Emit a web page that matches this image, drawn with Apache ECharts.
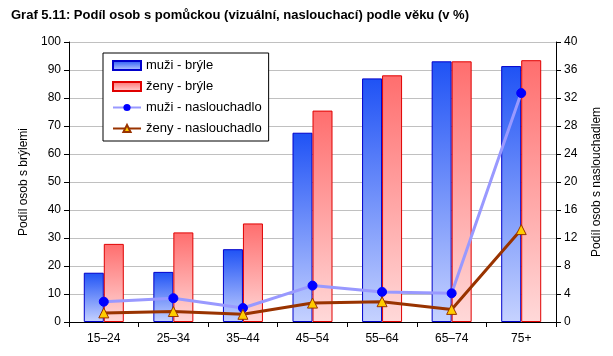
<!DOCTYPE html>
<html><head><meta charset="utf-8">
<script src="https://cdn.jsdelivr.net/npm/echarts@6/dist/echarts.min.js"></script>
<style>html,body{margin:0;padding:0;background:#fff}#c{width:613px;height:356px}</style>
</head><body><div id="c"></div>
<script>
const categories = ['15–24','25–34','35–44','45–54','55–64','65–74','75+'];
const menGlasses = [17.6, 17.9, 26.0, 67.6, 87.0, 93.1, 91.4];
const womenGlasses = [27.9, 32.0, 35.2, 75.5, 88.1, 93.1, 93.5];
const menHearing = [2.9, 3.4, 2.0, 5.2, 4.3, 4.1, 32.7];
const womenHearing = [1.3, 1.5, 1.1, 2.7, 2.9, 1.8, 13.2];
const titleText = 'Graf 5.11: Podíl osob s pomůckou (vizuální, naslouchací) podle věku (v %)';

const font = 'Liberation Sans, Arial, sans-serif';
const chart = echarts.init(document.getElementById('c'));
const grad = (top, bottom) => new echarts.graphic.LinearGradient(0,0,0,1,[{offset:0,color:top},{offset:1,color:bottom}]);
chart.setOption({
  animation:false,
  textStyle:{fontFamily:font},
  title:{text:titleText,left:6,top:4,textStyle:{fontSize:13,fontWeight:'bold',color:'#000',fontFamily:font}},
  legend:{
    orient:'vertical', left:103, top:53, itemWidth:28, itemHeight:9, itemGap:8,
    padding:[6,7,6,9], borderColor:'#000', borderWidth:1, backgroundColor:'#fff',
    textStyle:{fontSize:13,color:'#000',fontFamily:font},
    data:[{name:'muži - brýle',icon:'rect'},{name:'ženy - brýle',icon:'rect'},'muži - naslouchadlo','ženy - naslouchadlo']
  },
  grid:{left:69,right:57,top:42,bottom:34},
  xAxis:{type:'category',data:categories,
    axisLine:{lineStyle:{color:'#000'}},
    axisTick:{show:true,alignWithLabel:false,lineStyle:{color:'#000'},length:5},
    axisLabel:{color:'#000',fontSize:12,margin:11}},
  yAxis:[
    {type:'value',min:0,max:100,interval:10,
     name:'Podíl osob s brýlemi',nameLocation:'middle',nameGap:36,nameRotate:90,
     nameTextStyle:{fontSize:12,color:'#000'},
     axisLine:{show:true,lineStyle:{color:'#000'}},
     axisTick:{show:true,length:5,lineStyle:{color:'#000'}},
     axisLabel:{color:'#000',fontSize:12,margin:8},
     splitLine:{lineStyle:{color:'#c0c0c0'}}},
    {type:'value',min:0,max:40,interval:4,position:'right',
     name:'Podíl osob s naslouchadlem',nameLocation:'middle',nameGap:35,nameRotate:90,
     nameTextStyle:{fontSize:12,color:'#000'},
     axisLine:{show:true,lineStyle:{color:'#000'}},
     axisTick:{show:true,length:5,lineStyle:{color:'#000'}},
     axisLabel:{color:'#000',fontSize:12,margin:8},
     splitLine:{show:false}}
  ],
  series:[
    {name:'muži - brýle',type:'bar',data:menGlasses,barWidth:20,barGap:'0%',
     itemStyle:{color:grad('#1f52f5','#c6d2ff'),borderColor:'#0000cc',borderWidth:1}},
    {name:'ženy - brýle',type:'bar',data:womenGlasses,barWidth:20,barGap:'0%',
     itemStyle:{color:grad('#ff6e6e','#ffd9d9'),borderColor:'#e00000',borderWidth:1}},
    {name:'muži - naslouchadlo',type:'line',yAxisIndex:1,data:menHearing,
     symbol:'circle',symbolSize:9,
     lineStyle:{color:'#9999ff',width:3},
     itemStyle:{color:'#0000ff',borderColor:'#0000ff'}},
    {name:'ženy - naslouchadlo',type:'line',yAxisIndex:1,data:womenHearing,
     symbol:'triangle',symbolSize:10,
     lineStyle:{color:'#993300',width:3},
     itemStyle:{color:'#ffcc00',borderColor:'#993300',borderWidth:1}}
  ]
});
</script></body></html>
